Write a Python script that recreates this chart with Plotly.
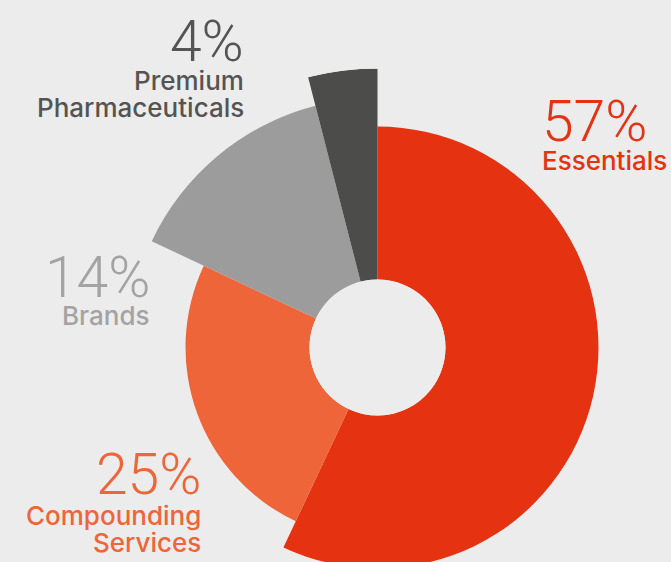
import plotly.graph_objects as go

# Portfolio mix by business segment
segments = ["Essentials", "Compounding Services", "Brands", "Premium Pharmaceuticals"]
shares = [57, 25, 14, 4]

# Styling
slice_colors = ["#e53312", "#ee6539", "#9c9c9c", "#4c4c4a"]
text_colors = ["#e53312", "#ee6539", "#a3a3a3", "#545454"]
slice_depth = [153, 124, 181.5, 211]  # radial extent of each slice beyond the hole
BG = "#ececec"

W, H = 671, 640
cx, cy, R, hole_r = 377.5, 347.5, 279, 68

# angular widths / centres (clockwise from 12 o'clock)
widths = [s * 360 / sum(shares) for s in shares]
centers = []
acc = 0
for w in widths:
    centers.append(acc + w / 2)
    acc += w

fig = go.Figure(
    go.Barpolar(
        r=slice_depth,
        theta=centers,
        width=widths,
        marker=dict(color=slice_colors, line=dict(width=0)),
        hoverinfo="skip",
    )
)

# label placement: (x, y of cap centre for the number, anchor, y of first label line)
label_pos = {
    "Essentials": (540, 121.7, "left", 160),
    "Compounding Services": (203, 474, "right", 515),
    "Brands": (152, 277, "right", 315),
    "Premium Pharmaceuticals": (246, 41, "right", 80),
}
line_step = 27.5
NUM_FONT = "Roboto"
LAB_FONT = "Inter"


def px_ann(text, x, y, anchor, family, size, color, weight):
    return dict(
        text=text, x=x / W, y=1 - y / H, xref="paper", yref="paper",
        xanchor=anchor, yanchor="middle", showarrow=False,
        font=dict(family=family, size=size, color=color, weight=weight),
    )


annotations = []
for seg, share, col in zip(segments, shares, text_colors):
    x, y_num, anchor, y_lab = label_pos[seg]
    annotations.append(px_ann(f"{share}%", x, y_num, anchor, NUM_FONT, 57, col, 300))
    for i, word in enumerate(seg.split(" ")):
        annotations.append(px_ann(word, x, y_lab + i * line_step, anchor, LAB_FONT, 26, col, 500))

fig.update_layout(
    width=W, height=H, autosize=False,
    margin=dict(l=0, r=0, t=0, b=0),
    paper_bgcolor=BG, plot_bgcolor=BG,
    showlegend=False,
    polar=dict(
        domain=dict(x=[(cx - R) / W, (cx + R) / W], y=[(H - cy - R) / H, (H - cy + R) / H]),
        hole=hole_r / R,
        bgcolor=BG,
        bargap=0,
        radialaxis=dict(range=[0, R - hole_r], visible=False, showgrid=False),
        angularaxis=dict(rotation=90, direction="clockwise", visible=False, showgrid=False),
    ),
    annotations=annotations,
)

fig.write_html("out.html", config={"displayModeBar": False})
